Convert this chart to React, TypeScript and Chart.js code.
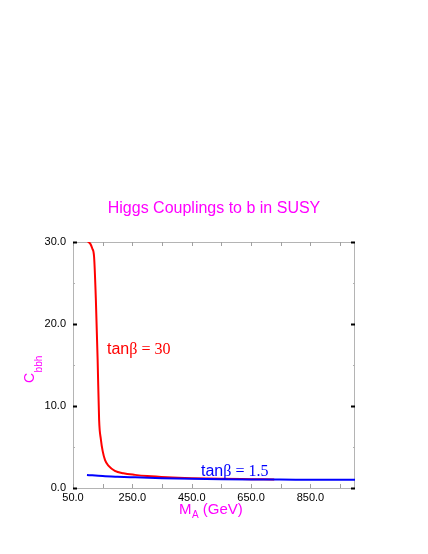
import React, { useEffect, useRef } from "react";
import { Chart, registerables } from "chart.js";

Chart.register(...registerables);

// tan(beta) = 30 curve
const redMass = [100, 108, 115, 121, 127, 133, 138, 144, 150, 158, 170, 191, 220, 259, 300, 367, 450, 550, 650, 728];
const redC = [30, 29.8, 29.2, 28.2, 23, 15.6, 8.3, 5.9, 4.5, 3.4, 2.7, 2.1, 1.8, 1.6, 1.45, 1.3, 1.19, 1.12, 1.08, 1.05];

// tan(beta) = 1.5 curve
const blueMass = [97, 150, 200, 260, 350, 450, 550, 650, 800, 1000];
const blueC = [1.6, 1.45, 1.37, 1.3, 1.2, 1.12, 1.07, 1.04, 1.02, 1.0];

const xMin = 50;
const xMax = 1000;
const xTickValues = [50, 150, 250, 350, 450, 550, 650, 750, 850, 950];
const xLabelValues = [50, 250, 450, 650, 850];
const yMin = 0;
const yMax = 30;
const yTickValues = [0, 5, 10, 15, 20, 25, 30];
const yLabelValues = [0, 10, 20, 30];

const titleText = "Higgs Couplings to b in SUSY";
const redLabel = ["tan", "\u03b2 = 30"];
const blueLabel = ["tan", "\u03b2 = 1.5"];

const MAGENTA = "#ff00ff";
const SANS = '"Liberation Sans", Arial, Helvetica, sans-serif';
const SERIF = '"Liberation Serif", "Times New Roman", serif';

const decorPlugin = {
  id: "decor",
  beforeDatasetsDraw(chart: any) {
    const { ctx, chartArea: a, scales } = chart;
    const xs = scales.x;
    const ys = scales.y;
    ctx.save();
    ctx.strokeStyle = "#b4b4b4";
    ctx.lineWidth = 1;
    ctx.strokeRect(a.left + 0.5, a.top + 0.5, a.right - a.left - 1, a.bottom - a.top);
    // x ticks (top & bottom), inward
    xs.ticks.forEach((t: any) => {
      const px = Math.round(xs.getPixelForValue(t.value)) + 0.5;
      ctx.strokeStyle = "#a0a0a0";
      ctx.lineWidth = 1;
      ctx.beginPath();
      ctx.moveTo(px, a.bottom);
      ctx.lineTo(px, a.bottom - 4);
      ctx.moveTo(px, a.top);
      ctx.lineTo(px, a.top + 4);
      ctx.stroke();
    });
    // y ticks (left & right), inward
    ys.ticks.forEach((t: any) => {
      const py = Math.round(ys.getPixelForValue(t.value)) + 0.5;
      const major = yLabelValues.includes(t.value);
      ctx.strokeStyle = major ? "#000000" : "#b0b0b0";
      ctx.lineWidth = major ? 2 : 1;
      const len = major ? 4 : 2;
      ctx.beginPath();
      ctx.moveTo(a.left, py);
      ctx.lineTo(a.left + len, py);
      ctx.moveTo(a.right, py);
      ctx.lineTo(a.right - len, py);
      ctx.stroke();
    });
    ctx.restore();
  },
  afterDatasetsDraw(chart: any) {
    const { ctx } = chart;
    ctx.save();
    // Title
    ctx.fillStyle = MAGENTA;
    ctx.textAlign = "center";
    ctx.textBaseline = "alphabetic";
    ctx.font = `16px ${SANS}`;
    ctx.fillText(titleText, 214, 213);

    // X axis label: M_A (GeV)
    ctx.textAlign = "left";
    let x = 179;
    ctx.font = `15px ${SANS}`;
    ctx.fillText("M", x, 514);
    x += ctx.measureText("M").width;
    ctx.font = `10px ${SANS}`;
    ctx.fillText("A", x + 0.5, 517.5);
    x += ctx.measureText("A").width + 0.5;
    ctx.font = `15px ${SANS}`;
    ctx.fillText(" (GeV)", x, 514);

    // Y axis label: C_bbh (rotated)
    ctx.save();
    ctx.translate(33.5, 383);
    ctx.rotate(-Math.PI / 2);
    ctx.font = `14px ${SANS}`;
    ctx.fillText("C", 0, 0);
    const cw = ctx.measureText("C").width;
    ctx.font = `10px ${SANS}`;
    ctx.fillText("bbh", cw + 0.5, 8.5);
    ctx.restore();

    // annotations
    const drawTan = (parts: string[], color: string, x0: number, y0: number) => {
      ctx.fillStyle = color;
      ctx.font = `16px ${SANS}`;
      ctx.fillText(parts[0], x0, y0);
      const w = ctx.measureText(parts[0]).width;
      ctx.font = `16px ${SERIF}`;
      ctx.fillText(parts[1], x0 + w, y0);
    };
    drawTan(redLabel, "#ff0000", 107, 354);
    drawTan(blueLabel, "#0000ff", 201, 476);
    ctx.restore();
  },
};

export default function App() {
  const ref = useRef<HTMLCanvasElement>(null);
  useEffect(() => {
    document.body.style.margin = "0";
    const canvas = ref.current!;
    const chart = new Chart(canvas, {
      type: "line",
      data: {
        datasets: [
          {
            label: "tanb=30",
            data: redMass.map((m, i) => ({ x: m, y: redC[i] })),
            borderColor: "#ff0000",
            borderWidth: 2,
            pointRadius: 0,
            cubicInterpolationMode: "monotone",
            fill: false,
            order: 2,
          },
          {
            label: "tanb=1.5",
            data: blueMass.map((m, i) => ({ x: m, y: blueC[i] })),
            borderColor: "#0000ff",
            borderWidth: 2,
            pointRadius: 0,
            cubicInterpolationMode: "monotone",
            fill: false,
            order: 1,
          },
        ],
      },
      options: {
        responsive: false,
        animation: false,
        events: [],
        layout: { padding: { top: 242, right: 73, left: 0, bottom: 0 } },
        plugins: {
          legend: { display: false },
          title: { display: false },
          tooltip: { enabled: false },
        },
        scales: {
          x: {
            type: "linear",
            min: xMin,
            max: xMax,
            grid: { display: false, drawTicks: false, tickLength: 0 },
            border: { display: false },
            afterBuildTicks: (s: any) => {
              s.ticks = xTickValues.map((v) => ({ value: v }));
            },
            ticks: {
              autoSkip: false,
              maxRotation: 0,
              padding: 3,
              color: "#000000",
              font: { family: SANS, size: 11 },
              callback: (v: any) => {
                const n = Number(v);
                return xLabelValues.includes(n) ? n.toFixed(1) : "";
              },
            },
            afterFit: (s: any) => {
              s.height = 66;
            },
          },
          y: {
            type: "linear",
            min: yMin,
            max: yMax,
            grid: { display: false, drawTicks: false, tickLength: 0 },
            border: { display: false },
            afterBuildTicks: (s: any) => {
              s.ticks = yTickValues.map((v) => ({ value: v }));
            },
            ticks: {
              autoSkip: false,
              padding: 7,
              color: "#000000",
              font: { family: SANS, size: 11 },
              callback: (v: any) => {
                const n = Number(v);
                return yLabelValues.includes(n) ? n.toFixed(1) : "";
              },
            },
            afterFit: (s: any) => {
              s.width = 73;
            },
          },
        },
      },
      plugins: [decorPlugin],
    } as any);
    return () => chart.destroy();
  }, []);
  return (
    <div style={{ width: 428, height: 554 }}>
      <canvas ref={ref} width={428} height={554} style={{ display: "block" }} />
    </div>
  );
}
